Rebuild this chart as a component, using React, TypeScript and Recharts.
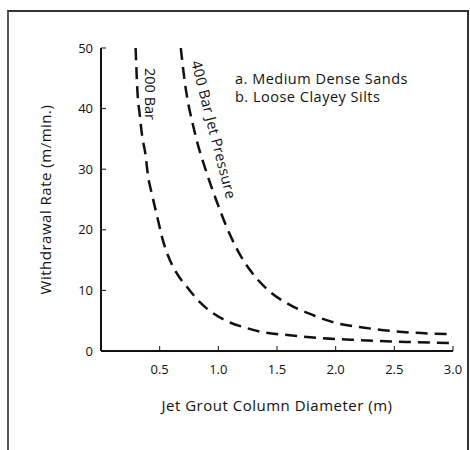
import { LineChart, Line, XAxis, YAxis, Label } from 'recharts';

// curve read-offs: diameter (m) vs withdrawal rate (m/min)
const diam200 = [0.295, 0.31, 0.33, 0.35, 0.38, 0.4, 0.43, 0.48, 0.52, 0.57, 0.64, 0.74, 0.84, 0.95, 1.1, 1.24, 1.38, 1.61, 1.89, 2.2, 2.6, 3.0];
const rate200 = [50, 43, 39, 35.6, 32.3, 29, 26.2, 22.1, 18.8, 15.8, 13, 10.4, 8.1, 6.3, 4.7, 3.8, 3.1, 2.6, 2.1, 1.8, 1.5, 1.3];
const diam400 = [0.68, 0.71, 0.8, 0.89, 0.98, 1.07, 1.17, 1.28, 1.41, 1.61, 1.81, 1.97, 2.26, 2.68, 3.0];
const rate400 = [50, 45, 36, 30, 25, 20.5, 16.4, 13.1, 10.3, 7.6, 5.9, 4.8, 3.8, 3.0, 2.8];

const xTicks = [0.5, 1.0, 1.5, 2.0, 2.5, 3.0];
const yTicks = [0, 10, 20, 30, 40, 50];
const legendLines = ['a. Medium Dense Sands', 'b. Loose Clayey Silts'];

const toPoints = (xs: number[], ys: number[]) => xs.map((d, i) => ({ d, r: ys[i] }));
const data200 = toPoints(diam200, rate200);
const data400 = toPoints(diam400, rate400);

const FONT = '"Open Sans", sans-serif';
const INK = '#111';

export default function App() {
    return (
        <div style={{ position: 'absolute', left: 0, top: 0, width: 470, height: 450, background: '#fff' }}>
            <div style={{ position: 'absolute', left: 7, top: 10, width: 458, height: 460, borderTop: '2px solid #333', borderLeft: '2px solid #555', borderRight: '2px solid #333' }} />
            <LineChart width={470} height={450} margin={{ top: 48, right: 17, bottom: 0, left: 0 }} style={{ position: 'absolute', left: 0, top: 0, fontFamily: FONT }}>
                <XAxis
                    dataKey="d" type="number" domain={[0, 3]} ticks={xTicks}
                    tickFormatter={(v: number) => v.toFixed(1)}
                    axisLine={{ stroke: INK, strokeWidth: 2 }} tickLine={{ stroke: INK }}
                    tickSize={-5} tickMargin={19} height={99}
                    tick={{ fill: INK, fontSize: 13, fontFamily: FONT }}
                    allowDataOverflow
                >
                    <Label value="Jet Grout Column Diameter (m)" position="insideTop" offset={49} fill={INK} fontSize={15} fontFamily={FONT} letterSpacing={0.5} />
                </XAxis>
                <XAxis xAxisId="top" orientation="top" type="number" domain={[0, 3]} height={0} tick={false} tickLine={false} axisLine={{ stroke: INK, strokeWidth: 2 }} />
                <YAxis
                    type="number" domain={[0, 50]} ticks={yTicks} width={101}
                    axisLine={{ stroke: INK, strokeWidth: 2 }} tickLine={{ stroke: INK }}
                    tickSize={-5} tickMargin={13}
                    tick={{ fill: INK, fontSize: 13, fontFamily: FONT }}
                    allowDataOverflow
                >
                    <Label value="Withdrawal Rate (m/min.)" angle={-90} position="insideLeft" offset={46} fill={INK} fontSize={15} fontFamily={FONT} letterSpacing={0.5} style={{ textAnchor: 'middle' }} />
                </YAxis>
                <YAxis yAxisId="right" orientation="right" type="number" domain={[0, 50]} width={0} tick={false} tickLine={false} axisLine={{ stroke: INK, strokeWidth: 2 }} />
                <Line data={data200} dataKey="r" type="monotone" stroke={INK} strokeWidth={2.5} strokeDasharray="12 7" dot={false} isAnimationActive={false} />
                <Line data={data400} dataKey="r" type="monotone" stroke={INK} strokeWidth={2.5} strokeDasharray="12 7" dot={false} isAnimationActive={false} />
            </LineChart>
            <svg width={470} height={450} style={{ position: 'absolute', left: 0, top: 0, pointerEvents: 'none', fontFamily: FONT }}>
                {legendLines.map((t, i) => (
                    <text key={t} x={235} y={84 + i * 18} fontSize={14.5} letterSpacing={0.5} fill={INK}>{t}</text>
                ))}
                <text transform="translate(145,68) rotate(90)" fontSize={14.5} fill={INK}>200 Bar</text>
                <text transform="translate(191,62) rotate(75.6)" fontSize={14.5} letterSpacing={0.3} fill={INK}>400 Bar Jet Pressure</text>
            </svg>
        </div>
    );
}
